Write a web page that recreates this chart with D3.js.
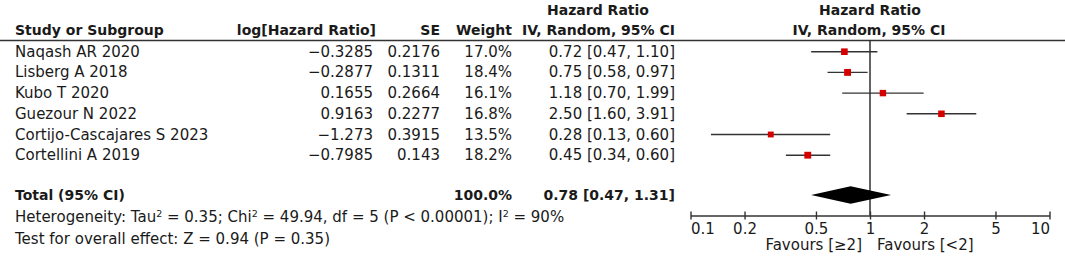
<!DOCTYPE html>
<html>
<head>
<meta charset="utf-8">
<script src="https://cdn.jsdelivr.net/npm/d3@7"></script>
<style>
  html, body { margin: 0; padding: 0; background: #fff; }
  svg { display: block; font-family: "DejaVu Sans", sans-serif; }
</style>
</head>
<body>
<div class="forest"></div>
<script>
// ----------------------------------
// DATA
// ----------------------------------
const studies = ['Naqash AR 2020', 'Lisberg A 2018', 'Kubo T 2020', 'Guezour N 2022', 'Cortijo-Cascajares S 2023', 'Cortellini A 2019'];
const logHR   = [-0.3285, -0.2877, 0.1655, 0.9163, -1.273, -0.7985];
const seHR    = [0.2176, 0.1311, 0.2664, 0.2277, 0.3915, 0.143];
const weights = [17.0, 18.4, 16.1, 16.8, 13.5, 18.2];
const hr      = [0.72, 0.75, 1.18, 2.50, 0.28, 0.45];
const hrLo    = [0.47, 0.58, 0.70, 1.60, 0.13, 0.34];
const hrHi    = [1.10, 0.97, 1.99, 3.91, 0.60, 0.60];

const totalHR = [0.78, 0.47, 1.31]; // point, lower, upper
const tickValues = [0.1, 0.2, 0.5, 1, 2, 5, 10];
const tickLabels = ['0.1', '0.2', '0.5', '1', '2', '5', '10'];

const rows = studies.map((s, i) => ({
  study: s, logHR: logHR[i], se: seHR[i], weight: weights[i],
  hr: hr[i], lo: hrLo[i], hi: hrHi[i]
}));

// ----------------------------------
// LAYOUT
// ----------------------------------
const width = 1065, height = 256;
const ink = '#1a1a1a';
const rowStep = 20.7, firstRow = 51.7;
const rowY = i => firstRow + i * rowStep;
const totalY = 195;
const axisY = 215.5;

const svg = d3.select('.forest').append('svg')
  .attr('width', width).attr('height', height)
  .style('font-size', '15px')
  .attr('fill', ink);

const fmtNum = v => String(v).replace('-', '\u2212');
const fmt2 = d3.format('.2f');

// ----------------------------------
// HEADERS
// ----------------------------------
const head = svg.append('g').style('font-weight', 'bold').style('font-size', '14px');
head.append('text').attr('x', 15).attr('y', 35).text('Study or Subgroup');
head.append('text').attr('x', 376).attr('y', 35).attr('text-anchor', 'end').text('log[Hazard Ratio]');
head.append('text').attr('x', 440).attr('y', 35).attr('text-anchor', 'end').text('SE');
head.append('text').attr('x', 512).attr('y', 35).attr('text-anchor', 'end').text('Weight');
head.append('text').attr('x', 598).attr('y', 15).attr('text-anchor', 'middle').text('Hazard Ratio');
head.append('text').attr('x', 675).attr('y', 35).attr('text-anchor', 'end').text('IV, Random, 95% CI');
head.append('text').attr('x', 870).attr('y', 15).attr('text-anchor', 'middle').text('Hazard Ratio');
head.append('text').attr('x', 869).attr('y', 35).attr('text-anchor', 'middle').text('IV, Random, 95% CI');

svg.append('line')
  .attr('x1', 0).attr('x2', width).attr('y1', 40.5).attr('y2', 40.5)
  .attr('stroke', '#333').attr('stroke-width', 1.3);

// ----------------------------------
// TABLE ROWS
// ----------------------------------
const table = svg.append('g');
const rowG = table.selectAll('g.row').data(rows).enter().append('g')
  .attr('class', 'row')
  .attr('transform', (d, i) => `translate(0,${rowY(i) + 5})`);

rowG.append('text').attr('x', 15).text(d => d.study);
rowG.append('text').attr('x', 373).attr('text-anchor', 'end').text(d => fmtNum(d.logHR));
rowG.append('text').attr('x', 440).attr('text-anchor', 'end').text(d => fmtNum(d.se));
rowG.append('text').attr('x', 512).attr('text-anchor', 'end').text(d => d.weight.toFixed(1) + '%');
rowG.append('text').attr('x', 675).attr('text-anchor', 'end')
  .text(d => `${fmt2(d.hr)} [${fmt2(d.lo)}, ${fmt2(d.hi)}]`);

// total row
const tot = svg.append('g').style('font-weight', 'bold').style('font-size', '14px')
  .attr('transform', `translate(0,${totalY + 5})`);
tot.append('text').attr('x', 15).text('Total (95% CI)');
tot.append('text').attr('x', 512).attr('text-anchor', 'end').text(d3.sum(weights).toFixed(1) + '%');
tot.append('text').attr('x', 675).attr('text-anchor', 'end')
  .text(`${fmt2(totalHR[0])} [${fmt2(totalHR[1])}, ${fmt2(totalHR[2])}]`);

// heterogeneity / overall effect
const het = svg.append('text').attr('x', 15).attr('y', 222);
het.append('tspan').text('Heterogeneity: Tau');
het.append('tspan').attr('dy', -5).style('font-size', '9.5px').text('2');
het.append('tspan').attr('dy', 5).text(' = 0.35; Chi');
het.append('tspan').attr('dy', -5).style('font-size', '9.5px').text('2');
het.append('tspan').attr('dy', 5).text(' = 49.94, df = 5 (P < 0.00001); I');
het.append('tspan').attr('dy', -5).style('font-size', '9.5px').text('2');
het.append('tspan').attr('dy', 5).text(' = 90%');

svg.append('text').attr('x', 15).attr('y', 244).text('Test for overall effect: Z = 0.94 (P = 0.35)');

// ----------------------------------
// FOREST PANEL
// ----------------------------------
const xScale = d3.scaleLog().domain([0.1, 10]).range([690.5, 1049.5]);
const plot = svg.append('g');

// line of no effect
plot.append('line')
  .attr('x1', xScale(1)).attr('x2', xScale(1))
  .attr('y1', 40.5).attr('y2', axisY)
  .attr('stroke', '#222').attr('stroke-width', 1.4);

// confidence intervals
plot.selectAll('line.ci').data(rows).enter().append('line')
  .attr('class', 'ci')
  .attr('x1', d => xScale(d.lo)).attr('x2', d => xScale(d.hi))
  .attr('y1', (d, i) => rowY(i)).attr('y2', (d, i) => rowY(i))
  .attr('stroke', '#333').attr('stroke-width', 1.4);

// weighted squares
const side = d => 1.6 * Math.sqrt(d.weight);
plot.selectAll('rect.est').data(rows).enter().append('rect')
  .attr('class', 'est')
  .attr('x', d => xScale(d.hr) - side(d) / 2)
  .attr('y', (d, i) => rowY(i) - side(d) / 2)
  .attr('width', side)
  .attr('height', side)
  .attr('fill', '#d40000');

// pooled diamond
const dh = 8.7;
plot.append('path')
  .attr('d', `M${xScale(totalHR[1])},${totalY} L${xScale(totalHR[0])},${totalY - dh} L${xScale(totalHR[2])},${totalY} L${xScale(totalHR[0])},${totalY + dh} Z`)
  .attr('fill', '#000');

// axis
const xAxis = d3.axisBottom(xScale)
  .tickValues(tickValues)
  .tickFormat((d, i) => tickLabels[i])
  .tickSizeInner(4)
  .tickSizeOuter(0);

const axisG = plot.append('g')
  .attr('transform', `translate(0,${axisY})`)
  .call(xAxis);

axisG.select('.domain').attr('stroke', '#333').attr('stroke-width', 1.4);
axisG.selectAll('.tick line').attr('y1', -4).attr('y2', 4).attr('stroke', '#333').attr('stroke-width', 1.4);
axisG.selectAll('.tick text')
  .attr('y', 18).attr('dy', null)
  .attr('fill', ink)
  .attr('text-anchor', (d, i) => i === 0 ? 'start' : (i === tickValues.length - 1 ? 'end' : 'middle'))
  .style('font-size', '15px')
  .style('font-family', '"DejaVu Sans", sans-serif');

// favours labels
svg.append('text').attr('x', xScale(1) - 8).attr('y', 250).attr('text-anchor', 'end').text('Favours [\u22652]');
svg.append('text').attr('x', xScale(1) + 7).attr('y', 250).text('Favours [<2]');
</script>
</body>
</html>
